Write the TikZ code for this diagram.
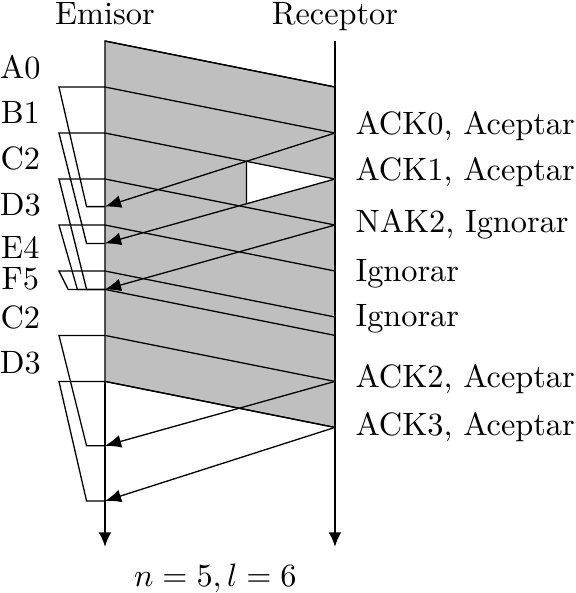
\documentclass[tikz,border=0pt]{standalone}
\usepackage{amsmath}
\usetikzlibrary{arrows.meta,calc}

\begin{document}
\begin{tikzpicture}[
    eje/.style={thick, -{Latex[length=4.5pt,width=4pt]}},
    ack/.style={-{Latex[length=5pt,width=4pt]}},
    trama/.style={inner sep=0.5pt},
    resp/.style={anchor=west}]
    \useasboundingbox (-1.141,0.446) rectangle (5.12,-6.0);
    % instantes de envio (E) y de llegada (R)
    \foreach \n/\t in {0/0,1/-0.5,2/-1,3/-1.5,4/-2,5/-2.5,6/-2.7,7/-3.2,8/-3.7} {
        \coordinate (E\n) at (0,\t);
        \coordinate (R\n) at (2.5,\t-0.5);
    }
    \coordinate (K0) at (0,-1.8);
    \coordinate (K1) at (0,-2.2);
    \coordinate (K2) at (0,-2.7);
    \coordinate (K3) at (0,-4.4);
    \coordinate (K4) at (0,-5.0);
    \coordinate (Rtop) at (2.5,0);
    \coordinate (Efin) at (0,-5.5);
    \coordinate (Rfin) at (2.5,-5.5);
    \filldraw[fill=lightgray] (E0) -- (R0) -- (R8) -- (E8) -- cycle;
    \coordinate (W0) at (intersection of E2--R2 and R1--K0);
    \coordinate (aux) at ($(W0)+(0,-1)$);
    \coordinate (W1) at (intersection of W0--aux and R2--K1);
    \fill[white] (W0) -- (R2) -- (W1) -- cycle;
    \draw (W0) -- (W1);
    \foreach \n in {0,...,8} \draw (E\n) -- (R\n);
    \draw[ack] (R1) -- (K0);
    \draw[ack] (R2) -- (K1);
    \draw[ack] (R3) -- (K2);
    \draw[ack] (R7) -- (K3);
    \draw[ack] (R8) -- (K4);
    % temporizadores
    \draw (E1) -- ++(-0.5,0) -- ($(K0)+(-0.2,0)$) -- (K0);
    \draw (E2) -- ++(-0.5,0) -- ($(K1)+(-0.2,0)$) -- (K1);
    \draw (E3) -- ++(-0.5,0) -- ($(K2)+(-0.2,0)$) -- (K2);
    \draw (E4) -- ++(-0.5,0) -- ($(K2)+(-0.3,0)$) -- (K2);
    \draw (E5) -- ++(-0.5,0) -- ($(K2)+(-0.4,0)$) -- (K2);
    \draw (E7) -- ++(-0.5,0) -- ($(K3)+(-0.2,0)$) -- (K3);
    \draw (E8) -- ++(-0.5,0) -- ($(K4)+(-0.2,0)$) -- (K4);
    \draw[eje] (E8) -- (Efin);
    \draw[eje] (Rtop) -- (Rfin);
    \node (emisor) at (0,0.30) {Emisor};
    \node (receptor) at (2.5,0.27) {Receptor};
    \node[trama] (tA0) at (-0.92,-0.28) {A0};
    \node[trama] (tB1) at (-0.92,-0.78) {B1};
    \node[trama] (tC2) at (-0.92,-1.28) {C2};
    \node[trama] (tD3) at (-0.92,-1.78) {D3};
    \node[trama] (tE4) at (-0.92,-2.24) {E4};
    \node[trama] (tF5) at (-0.92,-2.59) {F5};
    \node[trama] (tC2b) at (-0.92,-3.0) {C2};
    \node[trama] (tD3b) at (-0.92,-3.5) {D3};
    \node[resp] (rA0) at (2.6,-0.92) {ACK0, Aceptar};
    \node[resp] (rB1) at (2.6,-1.42) {ACK1, Aceptar};
    \node[resp] (rC2) at (2.6,-1.99) {NAK2, Ignorar};
    \node[resp] (rD3) at (2.6,-2.53) {Ignorar};
    \node[resp] (rE4) at (2.6,-3.02) {Ignorar};
    \node[resp] (rC2b) at (2.6,-3.67) {ACK2, Aceptar};
    \node[resp] (rD3b) at (2.6,-4.2) {ACK3, Aceptar};
    \node (param) at (1.2,-5.84) {$n=5, l=6$};
\end{tikzpicture}
\end{document}
